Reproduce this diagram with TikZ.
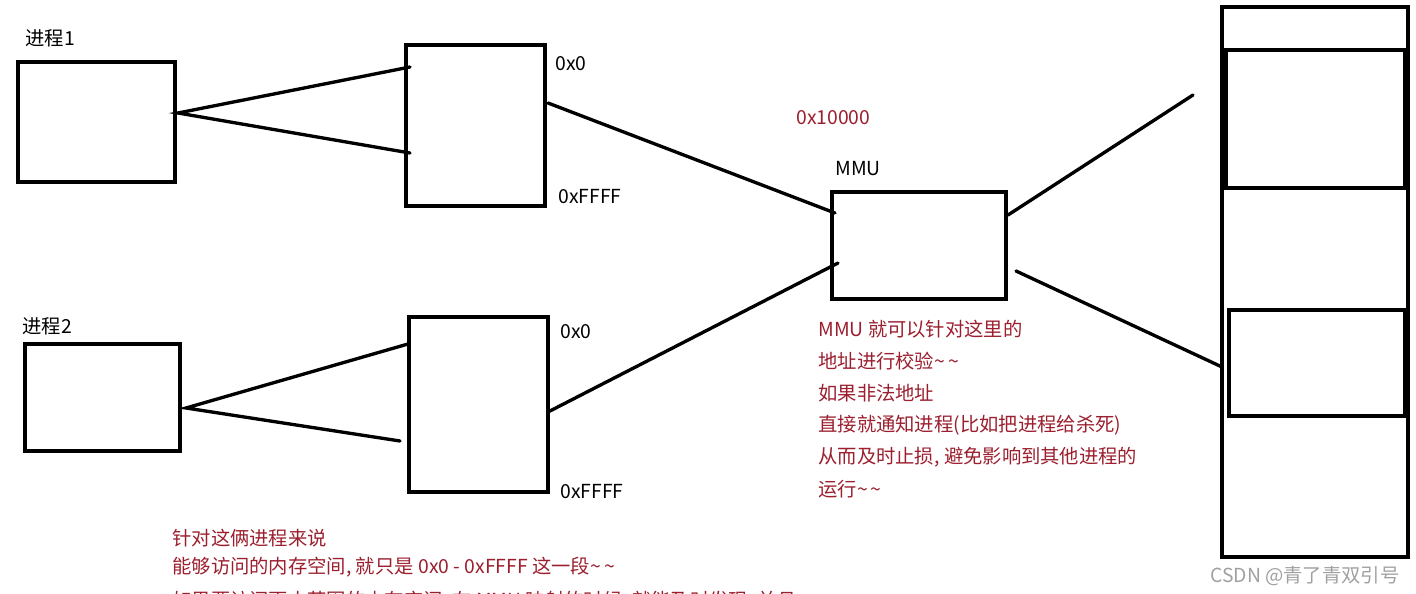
\documentclass[tikz,border=0pt]{standalone}
\usepackage{fontspec}
\setmainfont{Noto Sans CJK SC}
\usetikzlibrary{positioning,fit}
\definecolor{notered}{HTML}{9B1F2E}
\definecolor{markgray}{HTML}{A0A0A0}

\begin{document}
\begin{tikzpicture}[
  x=0.02cm,y=-0.02cm,
  box/.style={draw,line width=1.9pt,inner sep=0pt},
  link/.style={line width=1.9pt,line cap=round},
  lbl/.style={font=\fontsize{11}{13}\selectfont,anchor=west,inner sep=0pt},
  note/.style={lbl,text=notered},
]
\useasboundingbox (0,0) rectangle (1416,594);

% Process 1 and its virtual space
\node[lbl] (proc1lbl) at (25,38) {进程1};
\node[box,fit={(18,62) (175,182)}] (proc1) {};
\node[box,fit={(406,45) (545,206)}] (virt1) {};
\node[lbl] (v1top) at (555,64) {0x0};
\node[lbl] (v1bot) at (558,197) {0xFFFF};
\coordinate (tip1) at (178,113);
\coordinate (v1a) at (410,67);
\coordinate (v1b) at (410,153);
\draw[link] (v1a) -- (tip1) -- (v1b);

% Process 2 and its virtual space
\node[lbl] (proc2lbl) at (22,326) {进程2};
\node[box,fit={(25,344) (180,451)}] (proc2) {};
\node[box,fit={(409,317) (548,492)}] (virt2) {};
\node[lbl] (v2top) at (560,332) {0x0};
\node[lbl] (v2bot) at (560,492) {0xFFFF};
\coordinate (tip2) at (186,408);
\coordinate (v2a) at (408,344);
\coordinate (v2b) at (400,441);
\draw[link] (v2a) -- (tip2) -- (v2b);

% MMU
\node[note] (addr) at (796,118) {0x10000};
\node[lbl] (mmulbl) at (835,169) {MMU};
\node[box,fit={(832,192) (1006,299)}] (mmu) {};
\coordinate (v1out) at (548,103);
\coordinate (v2out) at (548,412);
\coordinate (mmuin1) at (835,213);
\coordinate (mmuin2) at (838,263);
\draw[link] (v1out) -- (mmuin1);
\draw[link] (v2out) -- (mmuin2);

% physical memory
\node[box,fit={(1222,7) (1408,557)}] (phys) {};
\node[box,line width=2.2pt,fit={(1226,50) (1405,188)}] (page1) {};
\node[box,line width=2.2pt,fit={(1229,310) (1405,416)}] (page2) {};
\coordinate (mmuout1) at (1008,215);
\coordinate (loose) at (1193,95);
\coordinate (mmuout2) at (1016,271);
\coordinate (physin) at (1222,367);
\draw[link] (mmuout1) -- (loose);
\draw[link] (mmuout2) -- (physin);

% notes
\node[note] (n1) at (818,329) {MMU 就可以针对这里的};
\node[note] (n2) at (818,361) {地址进行校验\textasciitilde\,\textasciitilde};
\node[note] (n3) at (818,393) {如果非法地址};
\node[note] (n4) at (818,425) {直接就通知进程(比如把进程给杀死)};
\node[note] (n5) at (818,457) {从而及时止损, 避免影响到其他进程的};
\node[note] (n6) at (818,489) {运行\textasciitilde\,\textasciitilde};

\node[note] (b1) at (172,538) {针对这俩进程来说};
\node[note] (b2) at (172,567) {能够访问的内存空间, 就只是 0x0 - 0xFFFF 这一段\textasciitilde\,\textasciitilde};
\node[note] (b3) at (172,601) {如果要访问更大范围的内存空间, 在 MMU 映射的时候, 就能及时发现, 并且};

\node[lbl,text=markgray] (csdn) at (1210,576) {CSDN @青了青双引号};
\end{tikzpicture}
\end{document}
